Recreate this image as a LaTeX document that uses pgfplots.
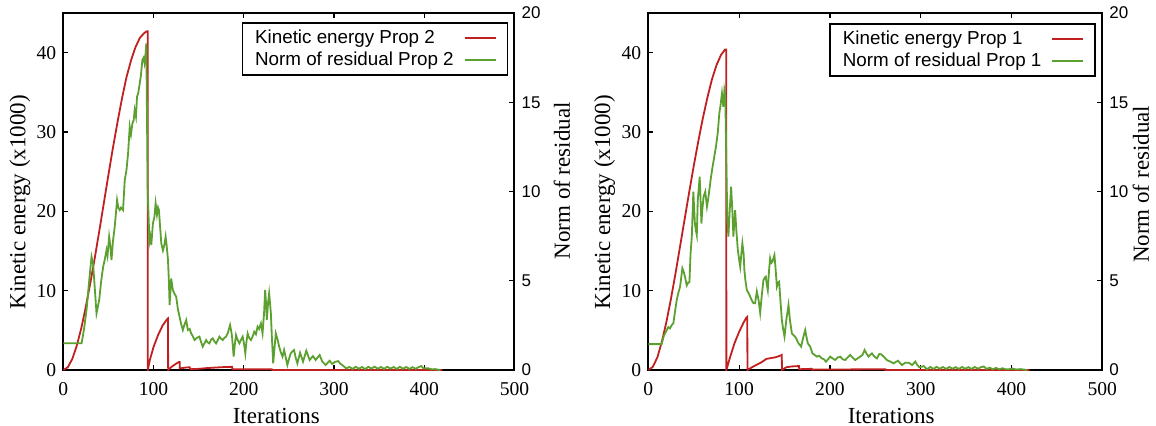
\documentclass[border=0pt]{standalone}
\usepackage{fontspec}
\setmainfont{Liberation Serif}
\setsansfont{Liberation Sans}
\usepackage{pgfplots}
\pgfplotsset{compat=1.18}
\definecolor{kered}{RGB}{192,32,32}
\definecolor{resgreen}{RGB}{92,160,48}

\pgfplotstableread{
x y
0 0
5 0.35
10 1.4
15 3.1
20 5.3
25 8.0
30 11.0
35 14.2
40 17.6
45 21.1
50 24.6
55 28.0
60 31.2
65 34.2
70 36.9
75 39.0
80 40.7
85 41.9
90 42.5
92.5 42.7
93.5 42.7
93.6 0
96 1.3
100 2.9
105 4.4
110 5.6
115 6.4
116 6.5
116.2 0
120 0.4
125 0.8
128 1.0
129 1.0
129.2 0.2
135 0.3
140 0.35
141 0.1
150 0.15
160 0.25
170 0.32
180 0.38
187 0.4
187.5 0.1
231 0.1
231.5 0
420 0
}\kepropB

\pgfplotstableread{
x y
0 1.5
20.3 1.5
23 2.3
25.8 3.4
28.7 5.0
31.3 6.35
33 5.97
35 4.5
36.8 3.17
39.8 3.92
42 5.0
44.2 5.79
46 6.2
47.9 6.72
49 6.4
50.8 7.47
52 7.0
53.4 6.16
55 7.2
57 8.03
59.6 9.52
61 9.1
62.6 8.96
64 9.1
66.2 8.96
68.1 10.64
70 11.2
71.8 12.14
73.6 13.63
75 13.2
76.6 13.82
78 14.0
79.1 14.57
80.5 14.2
81.7 15.31
83 15.5
84.7 16.06
86 16.5
87.6 17.37
89 17.5
90 17.2
91 17.6
92 18.3
93.5 10
95.5 7.2
96.4 7.47
97.5 7.0
99.3 8.2
101 8.6
102.3 9.34
103.8 8.7
105 9.1
106 8.96
107.3 8.0
108.6 7.1
110.4 6.7
112 7.0
113.4 7.47
114.5 7.0
116 6.16
117 5.0
117.8 3.64
119.6 5.13
121.4 4.48
123 4.3
125.1 4.11
127 3.4
128.8 2.99
130.5 2.6
132.5 2.24
134 2.5
136.2 2.8
138 2.24
140 2.3
141.7 2.05
143.5 1.9
145.4 1.68
148 1.8
150.9 1.87
152.5 1.6
154.5 1.31
156.5 1.5
158.3 1.68
160 1.55
161.9 1.49
163.8 1.7
165.6 1.77
167.5 1.6
169.3 1.49
171 1.65
173 1.87
175 1.75
176.7 1.68
178.5 1.8
180.4 1.87
182.5 2.1
184.8 2.52
186 2.2
187 1.87
188.8 0.75
190 1.4
191.4 1.96
193 1.7
195.1 1.49
197 1.7
198.8 1.87
200.5 1.4
201.7 0.93
203 1.6
204.3 2.05
206 1.8
208 1.68
210 1.9
211.6 2.15
213.5 2.0
215.3 2.43
217 2.3
219 2.61
220.8 2.05
222.5 3.2
223.7 4.48
225 3.5
225.5 2.8
227 3.8
228.1 4.3
229 3.8
230 3.2
231 2.0
232.6 0.37
234 1.2
235.5 2.05
237.5 1.7
239.2 1.31
241 1.0
242.9 0.75
244.7 1.12
246.5 0.7
248.3 0.28
250 0.6
252 0.93
254 1.05
255.7 1.12
257.5 0.7
259.4 0.37
262.4 0.97
265.7 0.47
269.3 1.08
273 0.56
276.7 0.78
279.6 0.56
284.1 0.84
287 0.47
290.7 0.28
295.1 0.52
298 0.34
301 0.45
304.6 0.5
307 0.35
309 0.28
311 0.2
313.5 0.09
317 0.17
320.5 0.06
324 0.18
327.5 0.07
331 0.17
334.5 0.05
338 0.18
341.5 0.08
345 0.19
348.5 0.07
352 0.17
355.5 0.06
359 0.18
362.5 0.08
366 0.17
369.5 0.06
373 0.18
376.5 0.07
380 0.17
383.5 0.06
387 0.16
390.5 0.07
394 0.17
396.7 0.22
399 0.1
401 0.09
404 0.1
408.4 0.04
412 0.05
417.6 0
}\resB

\pgfplotstableread{
x y
0 0
5 0.4
10 1.6
15 3.6
20 6.1
25 9.0
30 12.2
35 15.6
40 19.0
45 22.4
50 25.7
55 28.8
60 31.7
65 34.3
70 36.6
75 38.4
80 39.7
84.5 40.4
85.8 40.4
86 0
90 1.6
95 3.4
100 4.8
105 6.0
108 6.6
109 6.7
109.2 0
115 0.4
120 0.7
125 1.0
130 1.4
135 1.5
140 1.6
145 1.8
147 1.9
147.2 0
152 0.35
158 0.45
166 0.5
166.2 0.1
180 0.15
180.2 0.05
261 0.1
261.2 0
420 0
}\kepropA

\pgfplotstableread{
x y
0 1.45
14.7 1.45
17 1.9
20.3 2.24
22 2.4
23.9 2.33
25.5 2.5
27.6 2.62
29.5 3.3
31.3 3.92
33 4.3
35 4.67
36.3 5.2
37.5 5.7
39 5.5
40.5 5.2
42.3 4.74
44 4.9
45.3 4.92
46.5 6.5
47.9 7.47
49.6 9.99
51.3 8.21
52.5 7.8
53.4 7.56
54.5 9.52
56.6 10.83
58.5 8.21
59.5 9.0
60.9 9.71
62.7 9.99
64.6 9.15
66 9.6
67.2 10.08
69 10.8
70.8 11.39
72.5 11.9
74.5 12.51
76.5 13.3
78.2 14.38
79.5 14.8
81.1 15.5
82.6 14.75
83.8 15.69
84.8 15.4
85.8 12
87 8.5
88.2 7.47
89.5 8.8
91.2 10.27
92.5 9.0
93.7 7.47
95.6 8.96
97 7.8
98.6 6.72
100 6.2
101.2 5.79
102.5 6.5
103.6 7.1
105 6.5
105.8 5.6
107 5.0
108.5 4.48
110.5 4.3
112.2 4.11
114 3.9
115.8 3.74
117.6 3.74
119.5 4.4
121.5 3.9
123.2 3.2
125 4.2
126.8 5.04
128.7 5.2
129.4 5.23
130.5 4.8
131.6 4.48
133 5.6
134.2 6.26
135.5 6.0
136.8 6.07
138 6.3
138.9 6.44
140 5.8
141.6 4.67
143 4.9
144.1 4.95
145.5 3.9
147.1 2.8
148.5 2.3
150 1.87
152 2.8
154.4 3.64
156 2.8
158.1 2.05
160 1.95
161.7 1.87
163.5 1.7
165.4 1.49
167 1.4
168.3 1.31
170.5 1.8
172.8 2.24
174 1.9
175.7 1.49
178.3 1.31
180.8 0.93
183 0.85
185.6 0.75
188 0.8
191.2 0.65
193.5 0.6
195.6 0.47
198 0.6
200.3 0.75
203 0.65
205.8 0.56
208.5 0.7
211.4 0.75
214 0.6
216.9 0.56
219.5 0.7
222.4 0.84
225 0.7
227.9 0.56
230.5 0.65
233.4 0.75
236 0.85
238.2 1.12
240.5 0.9
242.6 0.75
244.5 0.85
246.3 0.93
249 0.75
251.8 0.65
254.4 0.9
256.5 0.88
259.2 0.75
262.8 0.56
266.5 0.47
270.2 0.37
272.5 0.45
275 0.52
277 0.4
279.4 0.28
283.1 0.41
286.8 0.41
290.5 0.28
294.1 0.47
296 0.3
298.5 0.15
303.3 0.22
307 0.04
310.5 0.17
314 0.06
317.5 0.18
321 0.07
324.5 0.17
328 0.06
331.5 0.17
335 0.07
338.5 0.16
342 0.06
345.5 0.17
349 0.07
352.5 0.16
356 0.06
359.5 0.17
363 0.07
366.5 0.16
369.5 0.2
372.5 0.06
376 0.13
379.5 0.04
383 0.12
386.5 0.04
390 0.1
393.5 0.04
397 0.04
401 0.08
405 0.03
410 0.05
417.2 0
}\resA

\pgfplotsset{
  common/.style={
    scale only axis, height=178.5pt, xmin=0, xmax=500,
    /pgf/number format/assume math mode=true,
    tick align=inside, major tick length=2.5pt,
    every tick/.style={black, line width=0.6pt},
    axis line style={line width=1pt},
  },
  leftaxis/.style={
    common, ymin=0, ymax=45, ytick={0,10,20,30,40}, xtick={0,100,...,500},
    ytick pos=left,
    xticklabel style={font=\fontsize{9.8}{10}\selectfont, yshift=-2.5pt},
    yticklabel style={font=\fontsize{9.8}{10}\selectfont},
    xlabel={Iterations}, ylabel={Kinetic energy (x1000)},
    every axis y label/.style={at={(axis description cs:-0.096,0.47)}, anchor=center, rotate=90, font=\fontsize{11.5}{12}\selectfont},
  },
  rightaxis/.style={
    common, ymin=0, ymax=20, ytick={0,5,...,20},
    axis y line*=right, axis x line=none,
    yticklabel style={font=\sffamily\fontsize{8.5}{9}\selectfont},
    ylabel={Norm of residual},
    legend plot pos=right,
    legend cell align=left,
    legend image code/.code={\path (0pt,0pt); \draw[line width=1pt,##1] (4pt,0pt) -- (19.5pt,0pt);},
    legend style={anchor=north east, draw=black, line width=0.8pt, fill=white,
      font=\sffamily\fontsize{9.4}{10}\selectfont, inner xsep=5.35pt, inner ysep=1.8pt,
      nodes={inner sep=1pt, text height=0.72em, text depth=0.2em}},
  },
}

\begin{document}
\begin{tikzpicture}
\path[use as bounding box] (0,0) rectangle (578pt,212.5pt);

% ---------- Left panel (Prop 2) ----------
\begin{axis}[leftaxis, at={(31.65pt,27.5pt)}, anchor=south west, width=225.6pt,
  every axis x label/.style={at={(axis description cs:0.472,-0.1485)}, anchor=base, font=\fontsize{11.5}{12}\selectfont}]
\addplot[kered, line width=0.9pt] table[x=x,y=y] {\kepropB};
\end{axis}
\begin{axis}[rightaxis, at={(31.65pt,27.5pt)}, anchor=south west, width=225.6pt,
  every axis y label/.style={at={(axis description cs:1.105,0.53)}, anchor=center, rotate=90, font=\fontsize{11.5}{12}\selectfont},
  legend style={at={(rel axis cs:0.986,0.9735)}}]
\addlegendimage{kered, line width=1pt}
\addlegendentry{Kinetic energy Prop 2}
\addplot[resgreen, line width=0.9pt] table[x=x,y=y] {\resB};
\addlegendentry{Norm of residual Prop 2}
\end{axis}

% ---------- Right panel (Prop 1) ----------
\begin{axis}[leftaxis, at={(324.15pt,27.5pt)}, anchor=south west, width=227pt,
  every axis x label/.style={at={(axis description cs:0.535,-0.1485)}, anchor=base, font=\fontsize{11.5}{12}\selectfont}]
\addplot[kered, line width=0.9pt] table[x=x,y=y] {\kepropA};
\end{axis}
\begin{axis}[rightaxis, at={(324.15pt,27.5pt)}, anchor=south west, width=227pt,
  every axis y label/.style={at={(axis description cs:1.085,0.52)}, anchor=center, rotate=90, font=\fontsize{11.5}{12}\selectfont},
  legend style={at={(rel axis cs:0.986,0.971)}}]
\addlegendimage{kered, line width=1pt}
\addlegendentry{Kinetic energy Prop 1}
\addplot[resgreen, line width=0.9pt] table[x=x,y=y] {\resA};
\addlegendentry{Norm of residual Prop 1}
\end{axis}
\end{tikzpicture}
\end{document}
